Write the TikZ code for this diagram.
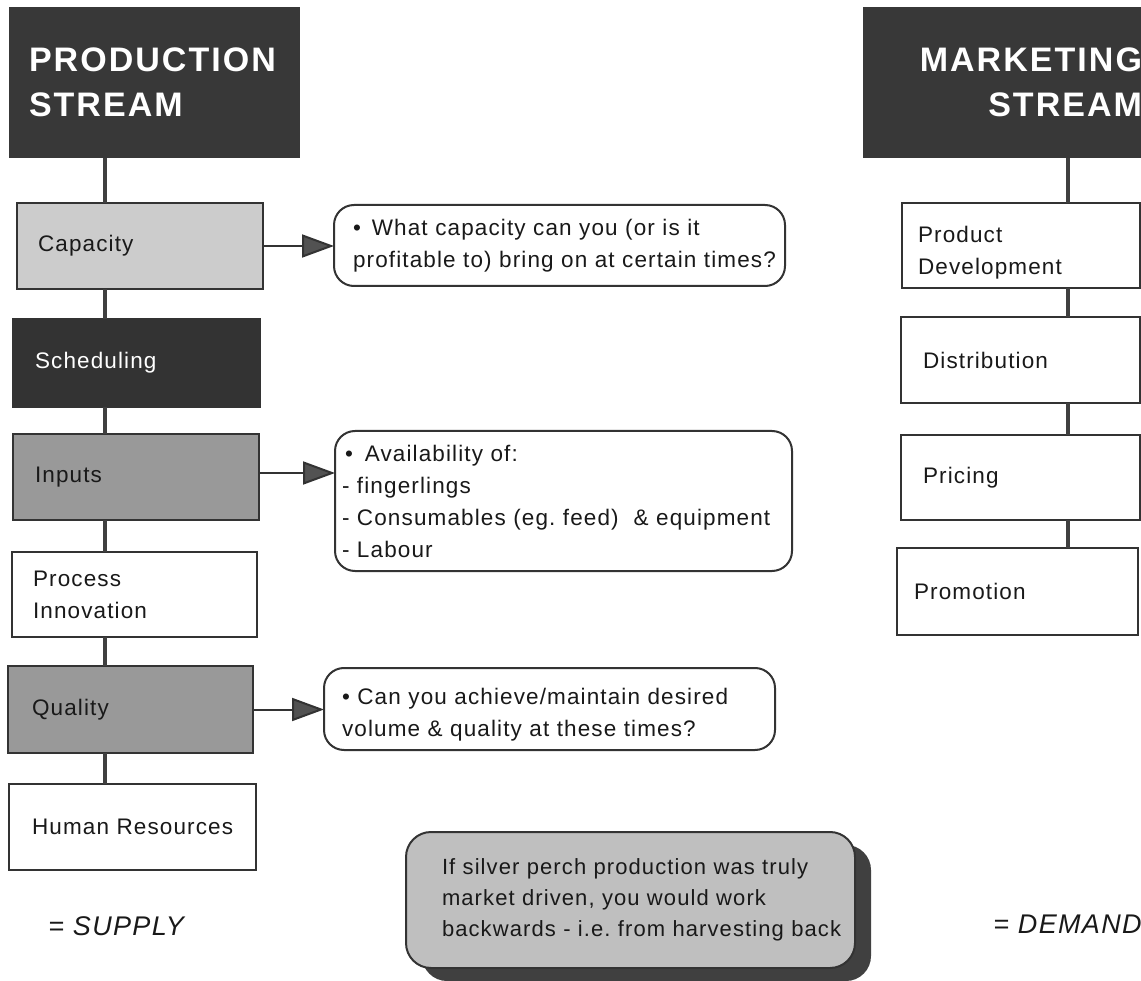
\documentclass[tikz,border=0pt]{standalone}
\usepackage{fontspec}
\setmainfont{Liberation Sans}[LetterSpace=5]
\usetikzlibrary{arrows.meta,shadows}
\frenchspacing

\begin{document}
\begin{tikzpicture}[x=1pt,y=-1pt,
  every node/.style={outer sep=0pt, inner ysep=0pt},
  txt/.style={font=\fontsize{22.5}{32}\selectfont, text=black!90},
  stagebox/.style={draw=black!80, line width=2pt, fill=white, align=left,
    anchor=north west, txt},
  lightdots/.style={fill=black!20},
  darkdots/.style={fill=black!40},
  darkbox/.style={fill=black!80, text=white},
  header/.style={fill=black!78, anchor=north west, text=white,
    font=\bfseries\addfontfeatures{LetterSpace=6}\fontsize{34}{45}\selectfont},
  bubble/.style={draw=black!80, line width=2pt, rounded corners=20pt,
    fill=white, align=left, anchor=north west, txt},
  spine/.style={draw=black!75, line width=4pt},
  pointer/.style={draw=black!80, line width=2pt,
    -{Triangle[length=32pt,width=23pt,fill=black!68]}},
  tag/.style={anchor=base west, text=black!90,
    font=\itshape\fontsize{27}{30}\selectfont},
]
\useasboundingbox (0,0) rectangle (1141,981);
\clip (0,0) rectangle (1141,981);

% ---------- production stream ----------
\node[header, text width=251pt, inner xsep=20pt, minimum height=151pt, align=left]
  (prodhead) at (9,7) {\rule{0pt}{20pt}PRODUCTION\\STREAM};
\node[stagebox, lightdots, text width=204pt, inner xsep=21pt, minimum height=86pt]
  (cap) at (17,203) {Capacity};
\node[stagebox, darkbox, text width=203pt, inner xsep=22pt, minimum height=88pt]
  (sched) at (13,319) {Scheduling};
\node[stagebox, darkdots, text width=202pt, inner xsep=22pt, minimum height=86pt]
  (inp) at (13,434) {Inputs};
\node[stagebox, text width=203pt, inner xsep=21pt, minimum height=85pt]
  (proc) at (12,552) {Process\\Innovation};
\node[stagebox, darkdots, text width=197pt, inner xsep=24pt, minimum height=87pt]
  (qual) at (8,666) {Quality};
\node[stagebox, text width=201pt, inner xsep=23pt, minimum height=86pt]
  (hr) at (9,784) {Human Resources};

% ---------- marketing stream ----------
\node[header, text width=268pt, inner xsep=11pt, minimum height=151pt, align=right]
  (mkthead) at (863,7) {\rule{0pt}{20pt}MARKETING\\STREAM};
\node[stagebox, text width=206pt, inner xsep=16pt, minimum height=85pt]
  (pdev) at (902,203) {\rule{0pt}{30pt}Product\\Development};
\node[stagebox, text width=195pt, inner xsep=22pt, minimum height=86pt]
  (dist) at (901,317) {Distribution};
\node[stagebox, text width=195pt, inner xsep=22pt, minimum height=85pt]
  (pric) at (901,435) {Pricing};
\node[stagebox, text width=207pt, inner xsep=17pt, minimum height=87pt]
  (prom) at (897,548) {Promotion};

% ---------- question bubbles ----------
\node[bubble, text width=413pt, inner xsep=19pt, minimum height=81pt]
  (q1) at (334,205)
  {\mbox{•\hspace{11pt}What capacity can you (or is it}\\
   \mbox{profitable to) bring on at certain times?}};
\node[bubble, text width=443pt, inner xsep=7pt, minimum height=140pt]
  (q2) at (335,431)
  {\mbox{\hspace*{3pt}•\hspace{12pt}Availability of:}\\
   \mbox{- fingerlings}\\
   \mbox{- Consumables (eg. feed)\ \ \& equipment}\\
   \mbox{- Labour}};
\node[bubble, text width=415pt, inner xsep=18pt, minimum height=82pt]
  (q3) at (324,668)
  {\mbox{\rule{0pt}{28pt}• Can you achieve/maintain desired}\\
   \mbox{volume \& quality at these times?}};

% ---------- closing note ----------
\node[draw=black!80, line width=2pt, rounded corners=25pt, fill=black!25,
  drop shadow={shadow xshift=16pt, shadow yshift=-13pt, fill=black!75, opacity=1},
  anchor=north west, align=left, txt, font=\fontsize{22}{31}\selectfont,
  text width=377pt, inner xsep=36pt, minimum height=136pt]
  (note) at (406,832)
  {\mbox{If silver perch production was truly}\\
   \mbox{market driven, you would work}\\
   \mbox{backwards - i.e. from harvesting back}};

% ---------- stream labels ----------
\node[tag] (supply) at (45,935) {= SUPPLY};
\node[tag] (demand) at (990,933) {= DEMAND};

% ---------- connectors ----------
\coordinate (ls) at (105,0);
\coordinate (rs) at (1068,0);
\draw[spine] (prodhead.south -| ls) -- (cap.north -| ls);
\draw[spine] (cap.south -| ls) -- (sched.north -| ls);
\draw[spine] (sched.south -| ls) -- (inp.north -| ls);
\draw[spine] (inp.south -| ls) -- (proc.north -| ls);
\draw[spine] (proc.south -| ls) -- (qual.north -| ls);
\draw[spine] (qual.south -| ls) -- (hr.north -| ls);

\draw[spine] (mkthead.south -| rs) -- (pdev.north -| rs);
\draw[spine] (pdev.south -| rs) -- (dist.north -| rs);
\draw[spine] (dist.south -| rs) -- (pric.north -| rs);
\draw[spine] (pric.south -| rs) -- (prom.north -| rs);

\draw[pointer] (cap.east) -- (cap.east -| q1.west);
\draw[pointer] ([yshift=4pt]inp.east) -- ([yshift=4pt]inp.east -| q2.west);
\draw[pointer] (qual.east) -- (qual.east -| q3.west);
\end{tikzpicture}
\end{document}
